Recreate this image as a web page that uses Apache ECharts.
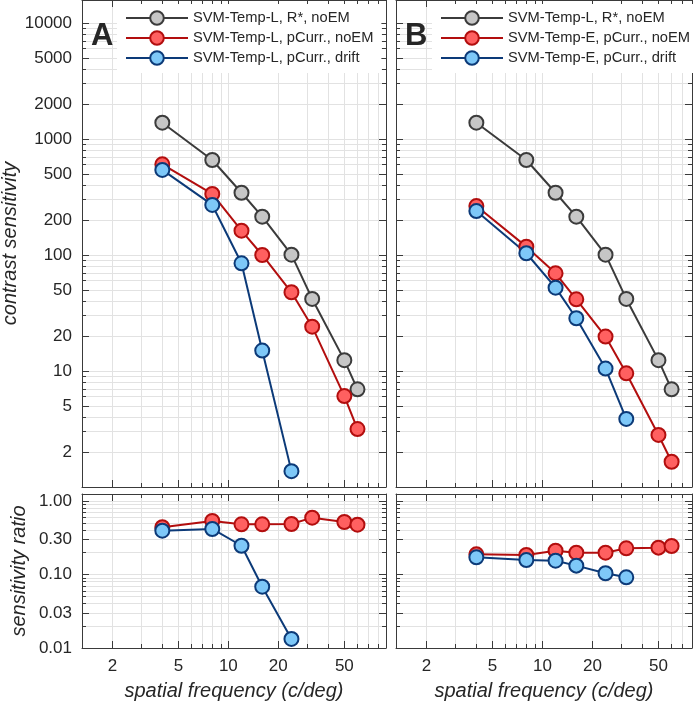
<!DOCTYPE html>
<html lang="en">
<head>
    <meta charset="UTF-8">
    <title>contrast sensitivity</title>
    <script src="https://cdn.jsdelivr.net/npm/echarts@6/dist/echarts.min.js"></script>
</head>
<body style="margin:0;background:#fff">
<div id="main" style="width:700px;height:703px;"></div>
<script>
    // spatial frequencies (c/deg)
    var freqs = [4, 8, 12, 16, 24, 32, 50, 60];

    // panel A: contrast sensitivity
    var rStarNoEM = [1382, 659, 344, 214, 100.6, 41.8, 12.4, 6.95];
    var tempLNoEM = [605, 336, 162, 100, 47.7, 24.1, 6.08, 3.16];
    var tempLDrift = [541, 270, 84.8, 15.0, 1.37];
    // panel B: contrast sensitivity
    var tempENoEM = [264, 118, 69.5, 41.5, 19.8, 9.55, 2.81, 1.65];
    var tempEDrift = [239, 103.5, 52.3, 28.5, 10.5, 3.86];

    // sensitivity ratio (relative to R*, noEM)
    var ratioLNoEM = [0.439, 0.535, 0.482, 0.482, 0.486, 0.593, 0.518, 0.476];
    var ratioLDrift = [0.394, 0.416, 0.246, 0.0682, 0.0133];
    var ratioENoEM = [0.188, 0.184, 0.211, 0.198, 0.198, 0.227, 0.232, 0.244];
    var ratioEDrift = [0.171, 0.157, 0.154, 0.132, 0.104, 0.0916];

    // ticks and labels
    var xTicks = [2, 3, 4, 5, 6, 7, 8, 9, 10, 20, 30, 40, 50, 60, 70, 80];
    var xLabels = [2, 5, 10, 20, 50];
    var csTicks = [1, 2, 3, 4, 5, 6, 7, 8, 9, 10, 20, 30, 40, 50, 60, 70, 80, 90,
        100, 200, 300, 400, 500, 600, 700, 800, 900, 1000, 2000, 3000, 4000, 5000,
        6000, 7000, 8000, 9000, 10000];
    var csLabels = [2, 5, 10, 20, 50, 100, 200, 500, 1000, 2000, 5000, 10000];
    var ratioTicks = [0.01, 0.02, 0.03, 0.04, 0.05, 0.06, 0.07, 0.08, 0.09,
        0.1, 0.2, 0.3, 0.4, 0.5, 0.6, 0.7, 0.8, 0.9, 1];
    var ratioLabels = [0.01, 0.03, 0.1, 0.3, 1];

    var nameR = 'SVM-Temp-L, R*, noEM';
    var namesA = [nameR, 'SVM-Temp-L, pCurr., noEM', 'SVM-Temp-L, pCurr., drift'];
    var namesB = [nameR, 'SVM-Temp-E, pCurr., noEM', 'SVM-Temp-E, pCurr., drift'];

    var font = 'Liberation Sans, Arial, Helvetica, sans-serif';
    var axisColor = '#3a3a3a';
    var gridColor = '#e2e2e2';
    var textColor = '#262626';

    var colors = {
        gray: {line: '#3b3b3b', fill: '#c6c6c6'},
        red: {line: '#b20e0e', fill: '#ff6060'},
        blue: {line: '#0c3a78', fill: '#7ec8f8'}
    };

    var lg = function (arr) {
        return arr.map(function (v) { return Math.log10(v); });
    };

    var fmtCount = function (v) {
        return String(Math.round(Math.pow(10, v)));
    };
    var fmtRatio = function (v) {
        return Math.pow(10, v).toFixed(2);
    };

    // grids: 0 top-left, 1 top-right, 2 bottom-left, 3 bottom-right
    var grids = [
        {left: 82, top: 0, width: 304, height: 487},
        {left: 396, top: 0, width: 296, height: 487},
        {left: 82, top: 494, width: 304, height: 154},
        {left: 396, top: 494, width: 296, height: 154}
    ];
    var xRange = [[0.118, 1.950], [0.118, 1.901], [0.118, 1.950], [0.118, 1.901]];
    var yRange = [[0, 4.198], [0, 4.198], [-2, 0.095], [-2, 0.095]];

    // four axes per side: ticks+grid, long ticks, opposite ticks, opposite long ticks
    var makeAxes = function (g, dir, range, ticks, labels, fmt, showLabels, name) {
        var pos = dir === 'x' ? ['bottom', 'top'] : ['left', 'right'];
        var res = [];
        for (var k = 0; k < 4; k++) {
            var major = k % 2 === 1;
            var ax = {
                gridIndex: g,
                type: 'value',
                min: range[0],
                max: range[1],
                position: k < 2 ? pos[0] : pos[1],
                axisLine: {show: !major, onZero: false, lineStyle: {color: axisColor, width: 1}},
                axisTick: {
                    show: true, inside: true, length: major ? 7 : 4,
                    lineStyle: {color: axisColor, width: 1},
                    customValues: lg(major ? labels : ticks)
                },
                axisLabel: {show: false},
                splitLine: {show: k === 0, lineStyle: {color: gridColor, width: 1}},
                silent: true
            };
            if (k === 0 && showLabels) {
                ax.axisLabel = {
                    show: true,
                    customValues: lg(labels),
                    formatter: fmt,
                    margin: 10,
                    color: textColor,
                    fontSize: 17,
                    fontFamily: font
                };
            }
            if (k === 0 && name) {
                ax.name = name;
                ax.nameLocation = 'middle';
                ax.nameGap = dir === 'x' ? 33 : 53;
                ax.nameTextStyle = {
                    fontSize: 20, fontStyle: 'italic', color: textColor, fontFamily: font
                };
            }
            res.push(ax);
        }
        return res;
    };

    var xAxis = [], yAxis = [];
    for (var g = 0; g < 4; g++) {
        var bottom = g >= 2;
        xAxis = xAxis.concat(makeAxes(g, 'x', xRange[g], xTicks, xLabels, fmtCount,
            bottom, bottom ? 'spatial frequency (c/deg)' : null));
        var left = g % 2 === 0;
        yAxis = yAxis.concat(makeAxes(g, 'y', yRange[g],
            bottom ? ratioTicks : csTicks, bottom ? ratioLabels : csLabels,
            bottom ? fmtRatio : fmtCount, left,
            left ? (bottom ? 'sensitivity ratio' : 'contrast sensitivity') : null));
    }

    var line = function (name, vals, g, c) {
        var fx = lg(freqs), fy = lg(vals);
        var data = [];
        for (var i = 0; i < vals.length; i++) {
            data.push([fx[i], fy[i]]);
        }
        return {
            type: 'line',
            name: name,
            xAxisIndex: g * 4,
            yAxisIndex: g * 4,
            data: data,
            symbol: 'circle',
            symbolSize: 14,
            showAllSymbol: true,
            clip: false,
            lineStyle: {color: c.line, width: 2},
            itemStyle: {color: c.fill, borderColor: c.line, borderWidth: 2},
            emphasis: {disabled: true},
            animation: false
        };
    };

    var legendBase = function (left, names) {
        return {
            left: left,
            top: 4,
            orient: 'vertical',
            data: names,
            itemWidth: 62,
            itemHeight: 17,
            itemGap: 2,
            padding: [5, 8, 6, 8],
            backgroundColor: '#ffffff',
            selectedMode: false,
            textStyle: {fontSize: 14.7, lineHeight: 18, color: textColor, fontFamily: font}
        };
    };

    var chart = echarts.init(document.getElementById('main'));
    chart.setOption({
        backgroundColor: '#ffffff',
        animation: false,
        title: [
            {text: 'A', left: 91, top: 21, padding: 0,
                textStyle: {fontSize: 31, fontWeight: 'bold', color: textColor, fontFamily: font}},
            {text: 'B', left: 405, top: 21, padding: 0,
                textStyle: {fontSize: 31, fontWeight: 'bold', color: textColor, fontFamily: font}}
        ],
        legend: [legendBase(117, namesA), legendBase(432, namesB)],
        grid: grids.map(function (r) {
            return {left: r.left, top: r.top, width: r.width, height: r.height,
                containLabel: false, outerBoundsMode: 'none'};
        }),
        xAxis: xAxis,
        yAxis: yAxis,
        series: [
            line(namesA[0], rStarNoEM, 0, colors.gray),
            line(namesA[1], tempLNoEM, 0, colors.red),
            line(namesA[2], tempLDrift, 0, colors.blue),
            line(namesB[0], rStarNoEM, 1, colors.gray),
            line(namesB[1], tempENoEM, 1, colors.red),
            line(namesB[2], tempEDrift, 1, colors.blue),
            line(namesA[1], ratioLNoEM, 2, colors.red),
            line(namesA[2], ratioLDrift, 2, colors.blue),
            line(namesB[1], ratioENoEM, 3, colors.red),
            line(namesB[2], ratioEDrift, 3, colors.blue)
        ]
    });
</script>
</body>
</html>
